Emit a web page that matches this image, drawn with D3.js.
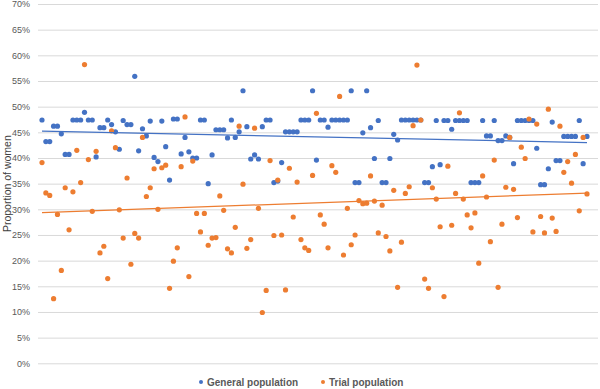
<!DOCTYPE html>
<html>
<head>
<meta charset="utf-8">
<script src="https://cdn.jsdelivr.net/npm/d3@7"></script>
<style>
  body { margin: 0; background: #fff; }
  text { font-family: "Liberation Sans", Arial, sans-serif; }
</style>
</head>
<body>
<div id="chart"></div>
<script>
// proportion of women (%) per trial, in the order shown
var general = [47.4, 43.2, 43.2, 46.2, 46.2, 44.7, 40.7, 40.7, 47.4, 47.4,
  47.4, 48.9, 47.4, 47.4, 40.2, 45.9, 45.9, 47.4, 46.5, 45.1,
  41.7, 47.3, 46.5, 46.5, 55.9, 41.4, 45.7, 44.3, 47.2, 40.1,
  39.3, 47.2, 42.2, 35.7, 47.6, 47.6, 40.8, 44.0, 41.2, 40.0,
  40.0, 47.4, 47.4, 35.0, 40.6, 45.5, 45.5, 45.5, 43.9, 47.4,
  44.0, 45.1, 53.1, 46.1, 39.8, 40.6, 39.8, 46.1, 47.4, 47.4,
  35.2, 35.5, 39.1, 45.1, 45.1, 45.1, 45.1, 47.4, 47.4, 47.4,
  53.1, 39.6, 47.4, 47.4, 46.0, 47.4, 47.4, 47.4, 47.4, 47.4,
  53.1, 35.2, 35.2, 44.9, 53.1, 45.9, 39.9, 47.3, 35.2, 35.2,
  39.9, 44.6, 43.5, 47.4, 47.4, 47.4, 47.4, 47.4, 47.4, 35.2,
  35.2, 38.3, 47.3, 38.7, 47.3, 47.3, 45.6, 47.3, 47.3, 47.3,
  47.3, 35.2, 35.2, 35.2, 47.3, 44.3, 44.3, 47.3, 43.4, 43.4,
  44.3, 44.0, 38.9, 47.3, 47.3, 47.3, 47.3, 47.3, 41.9, 34.8,
  34.8, 37.9, 47.0, 39.5, 39.5, 44.2, 44.2, 44.2, 44.2, 47.3,
  38.9, 44.2];

var trial = [39.1, 33.2, 32.7, 12.6, 29.0, 18.1, 34.2, 26.0, 33.4, 41.5,
  35.2, 58.2, 39.7, 29.6, 41.3, 21.5, 22.8, 16.5, 45.3, 42.0,
  29.9, 24.4, 36.1, 19.3, 25.3, 24.4, 44.0, 32.5, 34.2, 37.9,
  30.0, 38.1, 38.6, 14.6, 19.9, 22.5, 38.3, 48.0, 16.9, 39.4,
  29.2, 25.6, 29.2, 23.0, 24.4, 24.5, 32.6, 29.8, 22.3, 21.5,
  26.5, 46.2, 34.9, 22.4, 24.1, 45.8, 30.2, 9.9, 14.2, 39.5,
  24.9, 35.7, 25.0, 14.3, 38.0, 28.5, 35.3, 24.1, 22.5, 22.0,
  36.6, 48.7, 28.9, 27.1, 22.5, 38.5, 37.2, 52.0, 21.1, 30.2,
  23.1, 25.0, 31.7, 31.1, 31.2, 36.5, 31.6, 25.4, 30.8, 24.7,
  21.9, 33.7, 14.8, 23.6, 33.1, 34.4, 46.3, 58.1, 47.4, 16.4,
  14.6, 34.2, 32.0, 26.6, 13.0, 38.4, 26.9, 33.1, 48.8, 32.0,
  28.9, 26.4, 29.3, 19.5, 36.5, 32.4, 23.7, 39.6, 14.8, 27.1,
  34.3, 44.0, 33.9, 28.4, 42.1, 39.9, 47.6, 25.6, 46.6, 28.6,
  25.4, 49.5, 28.3, 25.7, 46.2, 37.2, 39.3, 35.1, 40.7, 29.7,
  44.0, 33.0];

var yTicks = [0, 5, 10, 15, 20, 25, 30, 35, 40, 45, 50, 55, 60, 65, 70];

var seriesNames = ["General population", "Trial population"];
var colors = ["#4472c4", "#ed7d31"];

var width = 600, height = 389;

var svg = d3.select("#chart").append("svg")
  .attr("width", width)
  .attr("height", height);

var x = d3.scaleLinear()
  .domain([0, general.length - 1])
  .range([42, 587]);

var y = d3.scaleLinear()
  .domain([0, 70])
  .range([363.3, 4]);

// gridlines + tick labels
var yAxis = svg.append("g")
  .attr("transform", "translate(38,0)")
  .call(d3.axisLeft(y)
    .tickValues(yTicks)
    .tickSize(-560)
    .tickPadding(8)
    .tickFormat(function(d) { return d + "%"; }));

yAxis.select(".domain").remove();
yAxis.selectAll(".tick line").attr("stroke", "#d9d9d9").attr("stroke-width", 1);
yAxis.selectAll(".tick text")
  .attr("fill", "#595959")
  .style("font-size", "9px");

// axis title
svg.append("text")
  .attr("transform", "translate(10.5," + ((y(0) + y(70)) / 2) + ") rotate(-90)")
  .attr("text-anchor", "middle")
  .attr("fill", "#404040")
  .style("font-size", "10.5px")
  .text("Proportion of women");

// simple least squares trendline
function trend(data) {
  var n = data.length;
  var mx = d3.mean(data, function(d, i) { return i; });
  var my = d3.mean(data);
  var num = 0, den = 0;
  for (var i = 0; i < n; i++) {
    num += (i - mx) * (data[i] - my);
    den += (i - mx) * (i - mx);
  }
  var b = num / den, a = my - b * mx;
  return [[0, a], [n - 1, a + b * (n - 1)]];
}

var line = d3.line()
  .x(function(d) { return x(d[0]); })
  .y(function(d) { return y(d[1]); });

[general, trial].forEach(function(data, k) {
  svg.append("g")
    .selectAll("circle")
    .data(data)
    .enter().append("circle")
      .attr("cx", function(d, i) { return x(i); })
      .attr("cy", function(d) { return y(d); })
      .attr("r", 2.6)
      .attr("fill", colors[k]);
});

[general, trial].forEach(function(data, k) {
  svg.append("path")
    .attr("d", line(trend(data)))
    .attr("fill", "none")
    .attr("stroke", colors[k])
    .attr("stroke-width", 1.25);
});

// legend
var legendX = [201, 323];
var legend = svg.selectAll("g.legend")
  .data(seriesNames)
  .enter().append("g")
    .attr("class", "legend")
    .attr("transform", function(d, i) { return "translate(" + legendX[i] + ",382)"; });

legend.append("circle")
  .attr("r", 2)
  .attr("fill", function(d, i) { return colors[i]; });

legend.append("text")
  .attr("x", 6)
  .attr("dy", "0.35em")
  .attr("fill", "#595959")
  .style("font-size", "10px")
  .style("font-weight", "bold")
  .text(function(d) { return d; });
</script>
</body>
</html>
